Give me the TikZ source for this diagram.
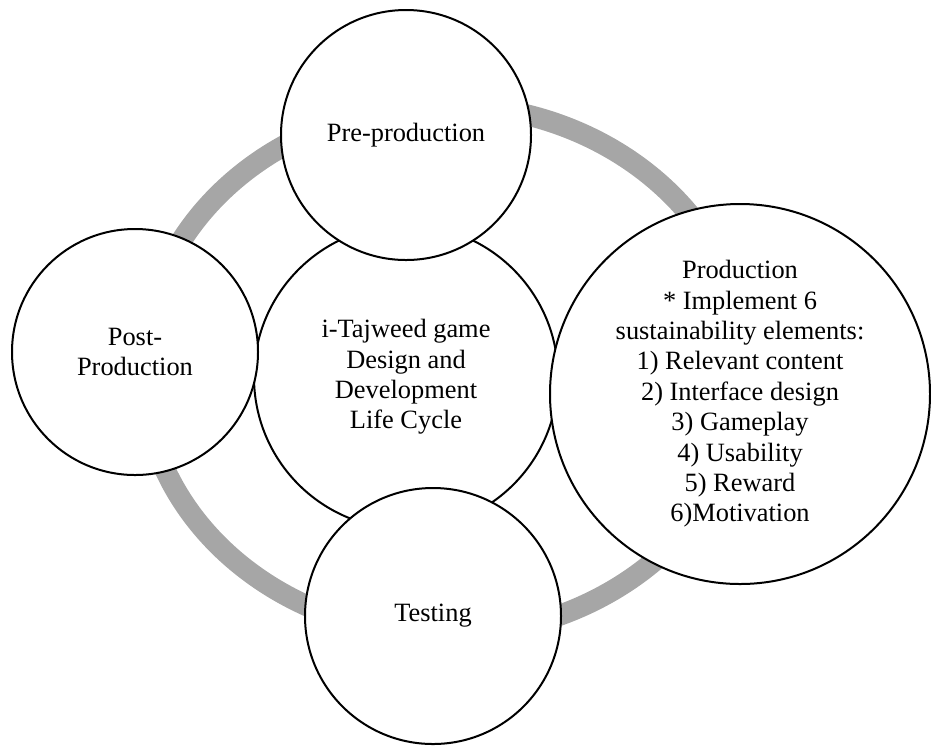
\documentclass[tikz,border=0pt]{standalone}
\usepackage{fontspec}
\setmainfont{Liberation Serif}
\definecolor{ringgray}{HTML}{A6A6A6}
\begin{document}
\begin{tikzpicture}[x=0.5pt,y=-0.5pt,
	phase/.style={draw,circle,fill=white,line width=1pt,inner sep=0pt,align=center,
		font=\fontsize{13.2}{15.2}\selectfont}]
	\useasboundingbox (0,0) rectangle (931,746);
	% the cycle ring behind the phases
	\draw[ringgray,line width=10.5pt] (445,370) ellipse [x radius=302,y radius=265];
	\node[phase,minimum size=152pt] (core) at (406,377) {i-Tajweed game\\Design and\\Development\\Life Cycle};
	\node[phase,minimum size=123pt] (post) at (135,352) {Post-\\Production};
	\node[phase,minimum size=190pt] (prod) at (740,394) {Production\\* Implement 6\\sustainability elements:\\1) Relevant content\\2) Interface design\\3) Gameplay\\4) Usability\\5) Reward\\6)Motivation};
	\node[phase,minimum size=125pt] (pre) at (406,135) {Pre-production};
	\node[phase,minimum size=128pt] (test) at (433,616) {Testing};
\end{tikzpicture}
\end{document}
